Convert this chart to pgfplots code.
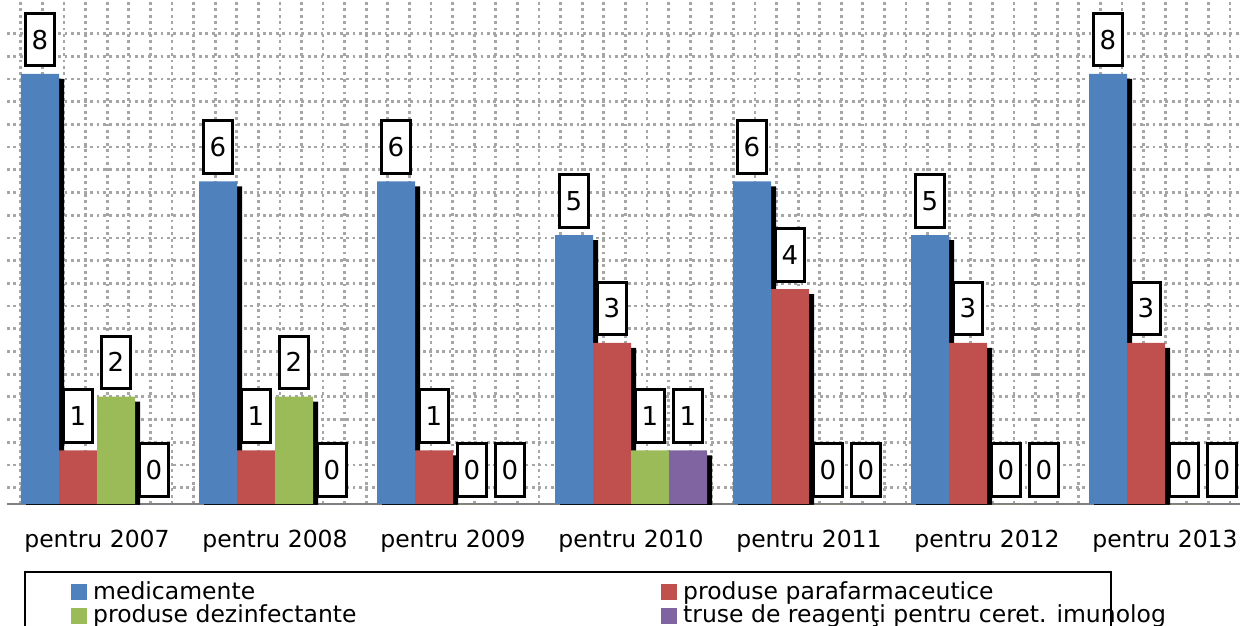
\documentclass[border=0pt]{standalone}
\usepackage{pgfplots}
\pgfplotsset{compat=1.18}
\usepackage{pgfplotstable}
\usepackage{fontspec}
\setmainfont{DejaVu Sans}
\definecolor{mblue}{HTML}{4F81BD}
\definecolor{mred}{HTML}{C0504D}
\definecolor{mgreen}{HTML}{9BBB59}
\definecolor{mpurple}{HTML}{8064A2}
\definecolor{gridgray}{HTML}{A6A6A6}
\pgfplotstableread{
x med para dez truse
0 8 1 2 0
1 6 1 2 0
2 6 1 0 0
3 5 3 1 1
4 6 4 0 0
5 5 3 0 0
6 8 3 0 0
}\data
\tikzset{shadowbar/.style={preaction={fill=black, draw=none, transform canvas={xshift=5pt, yshift=-5pt}}}}
\begin{document}
\begin{tikzpicture}
\begin{axis}[
  x=178pt, y=53.75pt,
  xmin=-0.506, xmax=6.42, ymin=0, ymax=9.377,
  axis line style={draw=none},
  major tick length=0pt, minor tick length=0pt,
  xtick={0,...,6},
  xticklabels={pentru 2007,pentru 2008,pentru 2009,pentru 2010,pentru 2011,pentru 2012,pentru 2013},
  xticklabel style={font=\fontsize{23.5}{24}\selectfont, yshift=-23pt},
  ytick={0}, yticklabels={},
  minor xtick={-0.428,-0.3067,...,6.42},
  minor ytick={0.303,0.7255,...,8.8},
  xmajorgrids=false, ymajorgrids=true,
  xminorgrids=true, yminorgrids=true,
  major grid style={solid, draw=gray, line width=1.2pt},
  minor grid style={draw=gridgray, line width=2.8pt, dash pattern=on 2.8pt off 3.6pt},
  /pgf/number format/assume math mode=true,
  nodes near coords,
  every node near coord/.append style={draw=black, line width=3pt, fill=white, text=black,
     minimum width=29pt, minimum height=52.5pt, inner sep=0pt, anchor=south, yshift=6.5pt,
     font=\fontsize{26}{26}\selectfont},
  legend columns=2,
  legend style={at={(0.01379,-0.1329)}, anchor=north west, draw=black, line width=2.5pt,
     inner xsep=46pt, inner ysep=9pt, font=\fontsize{23.5}{24}\selectfont,
     column sep=6pt, row sep=4.5pt, /tikz/every even column/.append style={column sep=8pt},
     nodes={inner sep=0pt}},
  legend image code/.code={\fill[#1] (0pt,-9pt) rectangle (16pt,7pt);},
]
\addlegendimage{fill=mblue, draw=none}
\addlegendentry{\makebox[560pt][l]{medicamente}}
\addlegendimage{fill=mred, draw=none}
\addlegendentry{\makebox[382pt][l]{produse parafarmaceutice}}
\addlegendimage{fill=mgreen, draw=none}
\addlegendentry{\makebox[560pt][l]{produse dezinfectante}}
\addlegendimage{fill=mpurple, draw=none}
\addlegendentry{\makebox[382pt][l]{truse de reagenţi pentru ceret. imunolog}}
\addplot[ybar, bar width=38pt, bar shift=-57pt, fill=mblue, draw=none, shadowbar, forget plot,
  every node near coord/.append style={xshift=-57pt}] table[x=x,y=med]{\data};
\addplot[ybar, bar width=38pt, bar shift=-19pt, fill=mred, draw=none, shadowbar, forget plot,
  every node near coord/.append style={xshift=-19pt}] table[x=x,y=para]{\data};
\addplot[ybar, bar width=38pt, bar shift=19pt, fill=mgreen, draw=none, shadowbar, forget plot,
  every node near coord/.append style={xshift=19pt}] table[x=x,y=dez]{\data};
\addplot[ybar, bar width=38pt, bar shift=57pt, fill=mpurple, draw=none, shadowbar, forget plot,
  every node near coord/.append style={xshift=57pt}] table[x=x,y=truse]{\data};
\coordinate (O) at (axis cs:0,0);
\end{axis}
\pgfresetboundingbox
\path[use as bounding box] ([shift={(-97pt,504pt)}]O) rectangle ([shift={(1143pt,-121pt)}]O);
\end{tikzpicture}
\end{document}
